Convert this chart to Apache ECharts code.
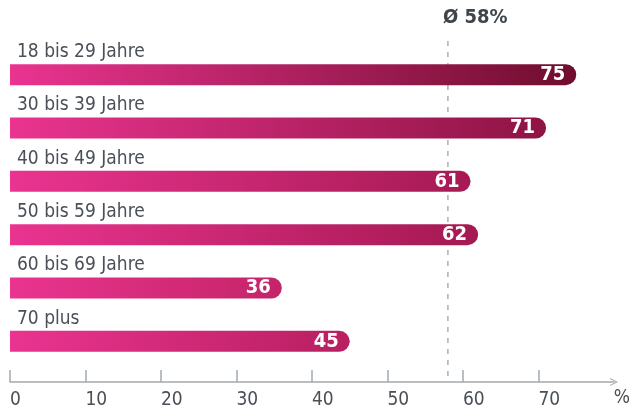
<!DOCTYPE html>
<html><head><meta charset="utf-8">
<script src="https://cdn.jsdelivr.net/npm/echarts@6/dist/echarts.min.js"></script>
<style>html,body{margin:0;padding:0;background:#fff}#c{width:632px;height:411px}</style>
</head><body><div id="c"></div>
<script>
var categories = ['18 bis 29 Jahre','30 bis 39 Jahre','40 bis 49 Jahre','50 bis 59 Jahre','60 bis 69 Jahre','70 plus'];
var values = [75, 71, 61, 62, 36, 45];
var average = 58;
var tickValues = [0,10,20,30,40,50,60,70];
var unitLabel = '%';

var FONT = '"Liberation Sans Narrow","DejaVu Sans Condensed",sans-serif';
var TXT = '#4a5057';
var AX = '#a3a9af';
// colour stops keyed by bar length (style helper)
var shade = [[0,[234,52,144]],[36,[196,36,104]],[45,[184,31,96]],[61,[166,26,83]],[71,[142,20,67]],[75,[112,13,46]]];
function endColor(v){
  for (var i=1;i<shade.length;i++){
    if (v<=shade[i][0]){
      var a=shade[i-1],b=shade[i],t=(v-a[0])/(b[0]-a[0]);
      var c=a[1].map(function(x,k){return Math.round(x+(b[1][k]-x)*t);});
      return 'rgb('+c.join(',')+')';
    }
  }
  return 'rgb('+shade[shade.length-1][1].join(',')+')';
}
var chart = echarts.init(document.getElementById('c'));
chart.setOption({
  animation:false,
  grid:[{left:10,right:18,top:48,bottom:43},{left:10,right:18,top:38,bottom:35}],
  xAxis:[{
    type:'value',min:0,max:80,interval:10,gridIndex:0,offset:14,
    splitLine:{show:false},
    axisLine:{show:true,lineStyle:{color:AX,width:1.5},symbol:['none','path://M0,100 L50,0 L100,100 L86,100 L50,26 L14,100 Z'],symbolSize:[14,8]},
    axisTick:{show:true,inside:true,length:12,lineStyle:{color:AX,width:1.5},customValues:tickValues},
    axisLabel:{color:TXT,fontFamily:FONT,fontSize:19,margin:9,align:'left',customValues:tickValues}
  },{
    type:'value',min:0,max:80,gridIndex:1,show:false
  }],
  yAxis:[{
    type:'category',data:categories,inverse:true,gridIndex:0,
    axisLine:{show:false},axisTick:{show:false},
    axisLabel:{inside:true,margin:7,color:TXT,fontFamily:FONT,fontSize:19,verticalAlign:'bottom',padding:[0,0,13,0]}
  },{
    type:'value',min:0,max:1,gridIndex:1,show:false
  }],
  graphic:[{type:'text',right:2,top:389,style:{text:unitLabel,fill:TXT,font:'19px '+FONT}}],
  series:[{
    type:'bar',xAxisIndex:0,yAxisIndex:0,barWidth:21,z:5,
    data:values.map(function(v){return {value:v,itemStyle:{color:new echarts.graphic.LinearGradient(0,0,1,0,[{offset:0,color:'rgb(234,52,144)'},{offset:1,color:endColor(v)}])}};}),
    itemStyle:{borderRadius:[0,11,11,0]},
    label:{show:true,position:'insideRight',distance:11,color:'#fff',fontFamily:FONT,fontWeight:'bold',fontSize:20}
  },{
    type:'line',xAxisIndex:1,yAxisIndex:1,symbol:'none',silent:true,z:1,
    lineStyle:{color:'#aab0b5',width:1.5,type:[5,6]},
    data:[[average,0],[average,1]],
    label:{show:false}
  },{
    type:'scatter',xAxisIndex:1,yAxisIndex:1,symbolSize:0,silent:true,z:6,
    itemStyle:{opacity:1},
    data:[[average,1]],
    label:{show:true,opacity:1,position:'top',distance:10,align:'left',offset:[-5,0],formatter:'Ø '+average+'%',color:'#3f454b',fontFamily:FONT,fontWeight:'bold',fontSize:20}
  }]
});
</script></body></html>
